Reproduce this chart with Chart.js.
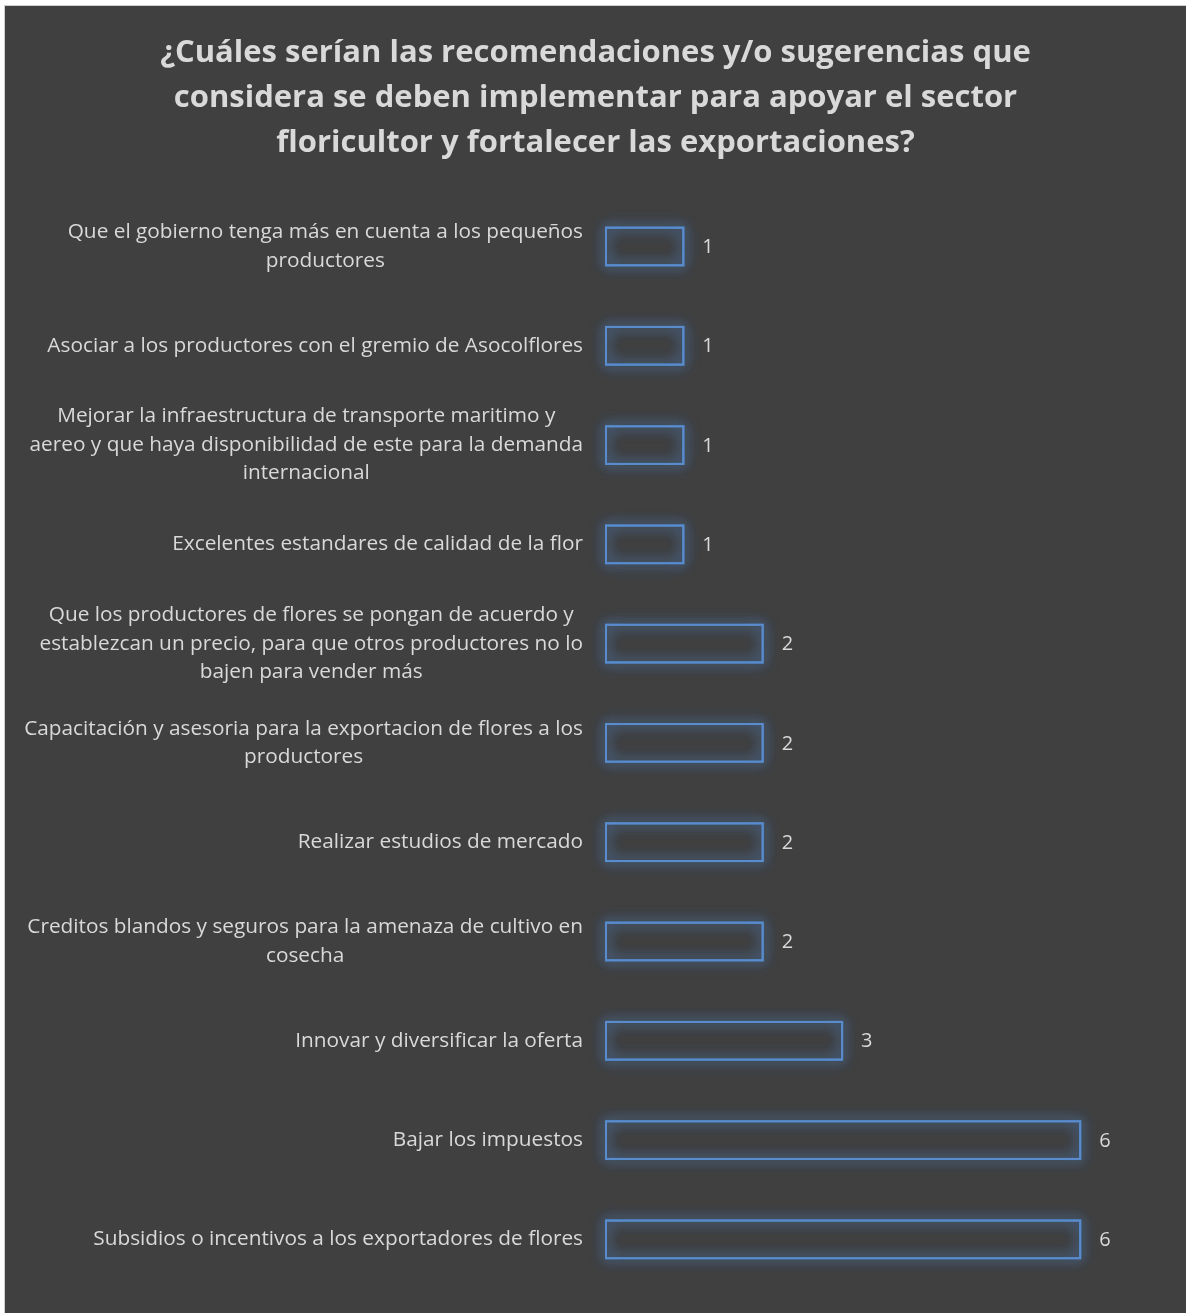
<!DOCTYPE html>
<html>
<head>
<meta charset="utf-8">
<script src="https://cdn.jsdelivr.net/npm/chart.js@4"></script>
<style>
  html, body { margin: 0; padding: 0; background: #ffffff; }
  #wrap { position: absolute; left: 4px; top: 5px; width: 1182px; height: 1308px; background: #404040; border-left: 1px solid #d0d0d0; border-top: 1px solid #d0d0d0; }
  #box { position: absolute; left: 0; top: 0; width: 1181px; height: 1307px; }
</style>
</head>
<body>
<div id="wrap"><div id="box"><canvas id="c"></canvas></div></div>
<script>
const titleLines = [
  "¿Cuáles serían las recomendaciones y/o sugerencias que",
  "considera se deben implementar para apoyar el sector",
  "floricultor y fortalecer las exportaciones?"
];
const categories = [
  ["Que el gobierno tenga más en cuenta a los pequeños", "productores"],
  ["Asociar a los productores con el gremio de Asocolflores"],
  ["Mejorar la infraestructura de transporte maritimo y", "aereo y que haya disponibilidad de este para la demanda", "internacional"],
  ["Excelentes estandares de calidad de la flor"],
  ["Que los productores de flores se pongan de acuerdo y", "establezcan un precio, para que otros productores no lo", "bajen para vender más"],
  ["Capacitación y asesoria para la exportacion de flores a los", "productores"],
  ["Realizar estudios de mercado"],
  ["Creditos blandos y seguros para la amenaza de cultivo en", "cosecha"],
  ["Innovar y diversificar la oferta"],
  ["Bajar los impuestos"],
  ["Subsidios o incentivos a los exportadores de flores"]
];
const values = [1, 1, 1, 1, 2, 2, 2, 2, 3, 6, 6];

const TEXT = '#d9d9d9';
const LABEL_FONT = '20.8px "Open Sans"';
const VALUE_FONT = '20px "Open Sans"';

const glowPlugin = {
  id: 'glow',
  beforeDatasetsDraw(chart) {
    const ctx = chart.ctx;
    const meta = chart.getDatasetMeta(0);
    ctx.save();
    meta.data.forEach(bar => {
      const left = Math.min(bar.base, bar.x), right = Math.max(bar.base, bar.x);
      const top = bar.y - bar.height / 2;
      ctx.shadowColor = 'rgba(79,129,189,0.9)';
      ctx.shadowBlur = 14;
      ctx.strokeStyle = 'rgba(79,129,189,0.8)';
      ctx.lineWidth = 2;
      for (let k = 0; k < 3; k++) {
        ctx.strokeRect(left + 1, top + 1, right - left - 2, bar.height - 2);
      }
    });
    ctx.restore();
  },
  afterDatasetsDraw(chart) {
    const ctx = chart.ctx;
    const meta = chart.getDatasetMeta(0);
    ctx.save();
    ctx.font = VALUE_FONT;
    ctx.fillStyle = TEXT;
    ctx.textAlign = 'left';
    ctx.textBaseline = 'middle';
    meta.data.forEach((bar, i) => {
      ctx.fillText(String(values[i]), bar.x + 18, bar.y + 1);
    });
    // category labels: block right-aligned, lines centered within block
    ctx.font = LABEL_FONT;
    const y = chart.scales.y;
    const rightEdge = chart.chartArea.left - 22;
    const lh = 28.5;
    ctx.textAlign = 'center';
    categories.forEach((lines, i) => {
      const cy = y.getPixelForTick(i);
      let w = 0;
      lines.forEach(l => { w = Math.max(w, ctx.measureText(l).width); });
      const cx = rightEdge - w / 2;
      const y0 = cy - (lines.length - 1) * lh / 2;
      lines.forEach((l, k) => ctx.fillText(l, cx, y0 + k * lh));
    });
    ctx.restore();
  }
};

new Chart(document.getElementById('c'), {
  type: 'bar',
  data: {
    labels: categories,
    datasets: [{
      data: values,
      backgroundColor: 'rgba(0,0,0,0)',
      borderColor: '#5a8bcc',
      borderWidth: 2,
      borderSkipped: false,
      barPercentage: 0.5,
      categoryPercentage: 0.8
    }]
  },
  options: {
    indexAxis: 'y',
    responsive: true,
    maintainAspectRatio: false,
    animation: false,
    layout: { padding: { left: 0, right: 0, top: 0, bottom: 24 } },
    plugins: {
      legend: { display: false },
      tooltip: { enabled: false },
      title: {
        display: true,
        text: titleLines,
        color: TEXT,
        font: { family: '"Open Sans"', size: 31, weight: 'bold', lineHeight: 1.45 },
        padding: { top: 25, bottom: 31 }
      }
    },
    scales: {
      x: { display: false, min: 0, max: 7.32 },
      y: {
        grid: { display: false },
        border: { display: false },
        ticks: { display: false },
        afterFit(s) { s.width = 600; }
      }
    }
  },
  plugins: [glowPlugin]
});
</script>
</body>
</html>
